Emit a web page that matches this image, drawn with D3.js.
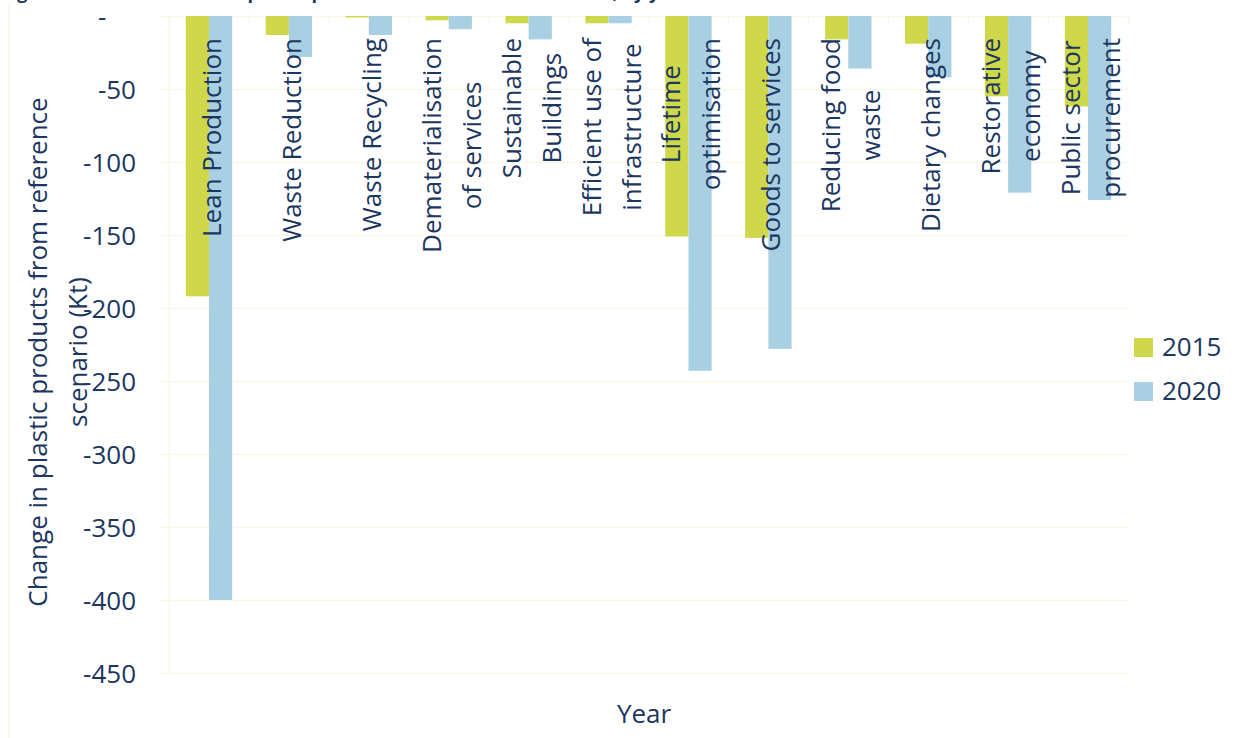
<!DOCTYPE html>
<html>
<head>
<meta charset="utf-8">
<script src="https://cdn.jsdelivr.net/npm/d3@7"></script>
<style>
  html, body { margin: 0; padding: 0; background: #ffffff; }
  svg { display: block; font-family: "Open Sans", sans-serif; }
</style>
</head>
<body>
<svg id="chart" width="1252" height="738"></svg>
<script>
// Measures and their change in plastic products (Kt) per year
const categories = [
  "Lean Production",
  "Waste Reduction",
  "Waste Recycling",
  "Dematerialisation\nof services",
  "Sustainable\nBuildings",
  "Efficient use of\ninfrastructure",
  "Lifetime\noptimisation",
  "Goods to services",
  "Reducing food\nwaste",
  "Dietary changes",
  "Restorative\neconomy",
  "Public sector\nprocurement"
];
const seriesNames = ["2015", "2020"];
const values2015 = [-192, -13, -1, -3, -5, -5, -151, -152, -16, -19, -55, -62];
const values2020 = [-400, -28, -13, -9, -16, -5, -243, -228, -36, -42, -121, -126];
const yTicks = [0, -50, -100, -150, -200, -250, -300, -350, -400, -450];
const yTitleLines = ["Change in plastic products from reference", "scenario (Kt)"];
const xTitle = "Year";
const figureTitle = "Figure 5: Total reduction in plastic products from reference scenario, by year";

const seriesValues = [values2015, values2020];
const seriesColors = ["#cfd84a", "#a9cfe2"];
const textColor = "#1b365f";
const gridColor = "#f6f7e9";

const svg = d3.select("#chart");
const plot = { left: 169, right: 1128, top: 16, bottom: 673 };

const y = d3.scaleLinear().domain([-450, 0]).range([plot.bottom, plot.top]);
const x = d3.scaleBand().domain(categories)
  .range([plot.left, plot.right]).paddingInner(0.42).paddingOuter(0.21);
const xs = d3.scaleBand().domain(seriesNames).range([0, x.bandwidth()]).padding(0);

// chart-area border on the left edge
svg.append("line").attr("x1", 8.5).attr("x2", 8.5).attr("y1", 4).attr("y2", 738)
  .attr("stroke", gridColor).attr("stroke-width", 1.5);

// figure caption (runs off the top edge)
svg.append("text").attr("x", 2).attr("y", -1)
  .attr("fill", textColor).attr("font-weight", 700).attr("font-size", 18)
  .text(figureTitle);

// horizontal gridlines
svg.append("g").selectAll("line").data(yTicks).join("line")
  .attr("x1", plot.left - 9).attr("x2", plot.right)
  .attr("y1", d => Math.round(y(d)) + 0.5).attr("y2", d => Math.round(y(d)) + 0.5)
  .attr("stroke", gridColor).attr("stroke-width", 1.5);

// value axis line
svg.append("line").attr("x1", plot.left + 0.5).attr("x2", plot.left + 0.5)
  .attr("y1", plot.top).attr("y2", plot.bottom)
  .attr("stroke", gridColor).attr("stroke-width", 1.5);

// category tick marks along the zero line
const step = x.step();
const boundaries = d3.range(categories.length + 1).map(i => plot.left + i * step);
svg.append("g").selectAll("line").data(boundaries).join("line")
  .attr("x1", d => Math.round(d) + 0.5).attr("x2", d => Math.round(d) + 0.5)
  .attr("y1", plot.top).attr("y2", plot.top + 9)
  .attr("stroke", gridColor).attr("stroke-width", 1.5);

// value axis labels
const yAxis = d3.axisLeft(y).tickValues(yTicks).tickSize(0).tickPadding(33)
  .tickFormat(d => d === 0 ? "-\u2007\u2007" : String(d));
const yAxisG = svg.append("g").attr("transform", `translate(${plot.left},0)`).call(yAxis);
yAxisG.select(".domain").remove();
yAxisG.selectAll("text").attr("fill", textColor).attr("font-size", 26)
  .attr("font-family", "'Open Sans', sans-serif").attr("dy", "0.36em");

// bars
const groups = svg.append("g").selectAll("g").data(categories).join("g")
  .attr("transform", d => `translate(${x(d)},0)`);
seriesNames.forEach((s, si) => {
  groups.append("rect")
    .attr("x", xs(s))
    .attr("width", xs.bandwidth())
    .attr("y", (d, i) => y(0))
    .attr("height", (d, i) => y(seriesValues[si][i]) - y(0))
    .attr("fill", seriesColors[si]);
});

// category labels, rotated, anchored just below the zero line
const lineGap = 40;
const labelTop = 38;
categories.forEach(cat => {
  const lines = cat.split("\n");
  const cx = x(cat) + x.bandwidth() / 2;
  const t = svg.append("text")
    .attr("transform", `translate(${cx},0) rotate(-90)`)
    .attr("fill", textColor).attr("font-size", 26).attr("text-anchor", "middle");
  const spans = lines.map((ln, i) => t.append("tspan")
    .attr("y", 12 + (i - (lines.length - 1) / 2) * lineGap)
    .text(ln));
  const maxLen = d3.max(spans, sp => sp.node().getComputedTextLength());
  spans.forEach(sp => sp.attr("x", -(labelTop + maxLen / 2)));
});

// value axis title
const yt = svg.append("text")
  .attr("transform", "translate(0,352) rotate(-90)")
  .attr("fill", textColor).attr("font-size", 26).attr("text-anchor", "middle");
yTitleLines.forEach((ln, i) => yt.append("tspan").attr("x", 0).attr("y", 47 + i * lineGap).text(ln));

// category axis title
svg.append("text").attr("x", 644).attr("y", 723)
  .attr("fill", textColor).attr("font-size", 26).attr("text-anchor", "middle")
  .text(xTitle);

// legend
const legend = svg.append("g").selectAll("g").data(seriesNames).join("g")
  .attr("transform", (d, i) => `translate(1134,${347 + i * 44})`);
legend.append("rect").attr("x", 0).attr("y", -9).attr("width", 19).attr("height", 19)
  .attr("fill", (d, i) => seriesColors[i]);
legend.append("text").attr("x", 28).attr("y", 0).attr("dy", "0.36em")
  .attr("fill", textColor).attr("font-size", 26)
  .text(d => d);
</script>
</body>
</html>
